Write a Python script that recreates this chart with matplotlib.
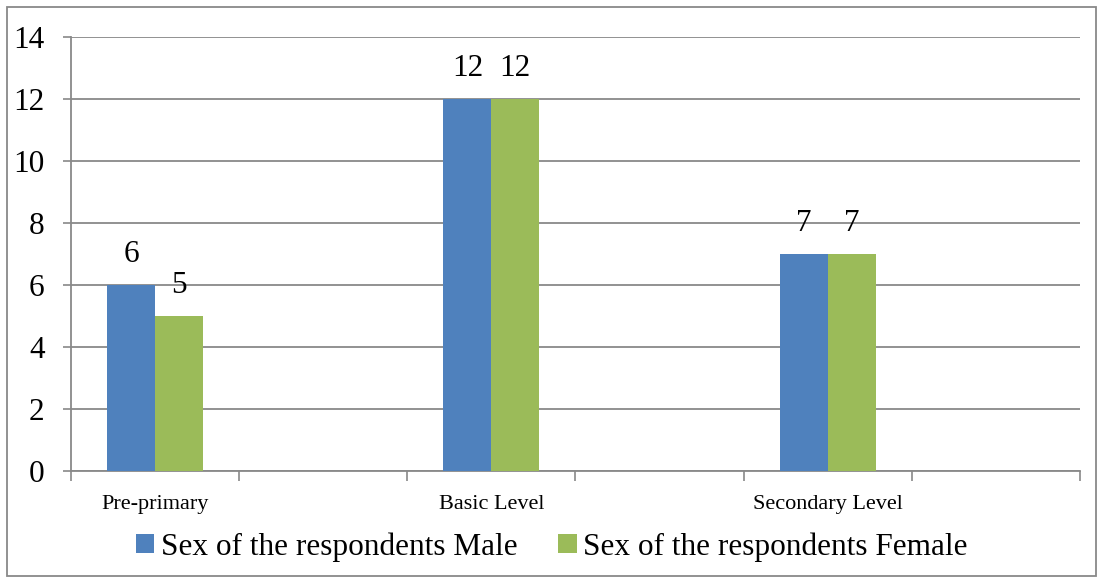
# Clustered bar chart: respondents by level and sex

import numpy as np
import matplotlib
matplotlib.rcParams['font.family'] = ['Liberation Serif', 'DejaVu Serif']
import matplotlib.pyplot as plt
from matplotlib.patches import Rectangle

# data (Excel-style sheet with blank categories in between)
categories = ['Pre-primary', '', 'Basic Level', '', 'Secondary Level', '']
male = [6, np.nan, 12, np.nan, 7, np.nan]
female = [5, np.nan, 12, np.nan, 7, np.nan]
series_names = ['Sex of the respondents Male', 'Sex of the respondents Female']
yticks = [0, 2, 4, 6, 8, 10, 12, 14]

blue = '#4F81BD'
green = '#9BBB59'
grey = '#898989'
big = 22.5

fig = plt.figure(figsize=(11.03, 5.81), dpi=100)
ax = fig.add_axes([0.0644, 0.189, 0.9146, 0.747])

x = np.arange(len(categories))
w = 0.285
ax.bar(x - w/2, male, w, color=blue, label=series_names[0], zorder=3)
ax.bar(x + w/2, female, w, color=green, label=series_names[1], zorder=3)

for xs, vals in ((x - w/2, male), (x + w/2, female)):
    for xi, v in zip(xs, vals):
        if np.isnan(v):
            continue
        ax.annotate(str(int(v)), (xi, v), xytext=(0, 12), textcoords='offset points',
                    ha='center', va='bottom', fontsize=big)

ax.set_xlim(-0.5, len(categories) - 0.5)
ax.set_ylim(0, 14)
ax.set_yticks(yticks)
ax.tick_params(axis='y', labelsize=big, length=6, width=1.2, color=grey, pad=13)
ax.yaxis.grid(True, color=grey, linewidth=1.3, zorder=0)

ax.set_xticks(x)
ax.set_xticklabels(categories, fontsize=16)
ax.set_xticks(np.arange(len(categories) + 1) - 0.5, minor=True)
ax.tick_params(axis='x', which='major', length=0, pad=17)
ax.tick_params(axis='x', which='minor', length=7, width=1.2, color=grey)

for s in ['top', 'right']:
    ax.spines[s].set_visible(False)
for s in ['left', 'bottom']:
    ax.spines[s].set_color(grey)
    ax.spines[s].set_linewidth(1.3)

ax.legend(loc='lower center', bbox_to_anchor=(0.5, 0.012), bbox_transform=fig.transFigure,
          ncol=2, frameon=False, fontsize=big, handlelength=0.6, handleheight=0.6,
          handletextpad=0.2, columnspacing=1.3, borderaxespad=0)

fig.patches.append(Rectangle((0.0065, 0.008), 0.987, 0.98, transform=fig.transFigure,
                             fill=False, edgecolor=grey, linewidth=1.3))

fig.savefig('out.png', dpi=100)
